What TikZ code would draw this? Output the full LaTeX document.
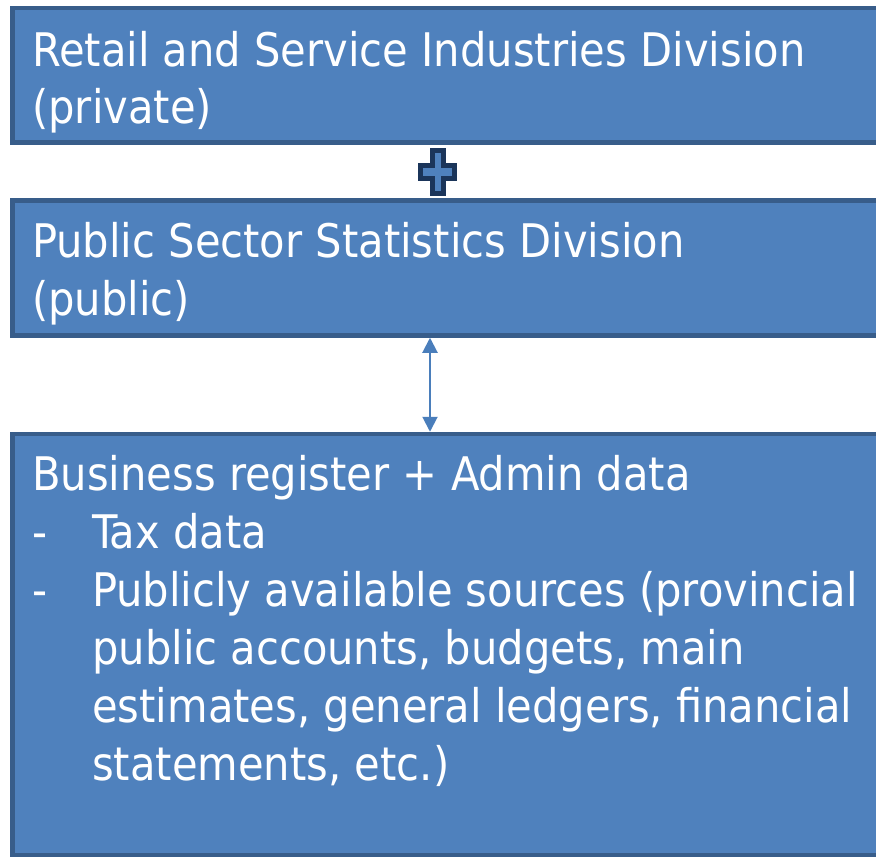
\documentclass[tikz,border=0pt]{standalone}
\usepackage{fontspec}
\newfontfamily\boxfont{DejaVu Sans Condensed}
\usetikzlibrary{arrows.meta,positioning}
\definecolor{BLUE}{HTML}{4F81BD}
\definecolor{EDGE}{HTML}{385D8A}
\definecolor{NAVY}{HTML}{1B355A}
\definecolor{ARROW}{HTML}{4A7EBB}

\begin{document}
\begin{tikzpicture}[x=1pt,y=-1pt]
\tikzstyle{panel}=[rectangle,draw=EDGE,fill=BLUE,line width=4.5pt,outer sep=0pt,inner sep=0pt,anchor=north west,minimum width=885pt]
% base west of a multi-line node sits on its last line
\tikzstyle{panel text}=[text=white,anchor=base west,inner sep=0pt,align=left,font=\boxfont\fontsize{46.3}{58}\selectfont]
\tikzstyle{myEdge}=[draw=ARROW,line width=2pt,shorten >=2.25pt,shorten <=2.25pt,
  arrows={Triangle[length=15pt,width=15pt]-Triangle[length=15pt,width=15pt]}]
\newcommand{\dashitem}{\makebox[60pt][l]{-}}
\newcommand{\itemgap}{\hspace*{60pt}}

\fill[white] (0,0) rectangle (876,859);
\clip (0,0) rectangle (876,859);

% the three division boxes run off the right edge
\node[panel,minimum height=134.5pt] (retail) at (12.5,8) {};
\node[panel,minimum height=135pt] (public) at (12.5,200.5) {};
\node[panel,minimum height=421pt] (admin) at (12.5,434) {};

\node[panel text] (retailText) at (32,124) {Retail and Service Industries Division\\(private)};
\node[panel text] (publicText) at (32,315) {Public Sector Statistics Division\\(public)};
\node[panel text] (adminText) at (32,780) {Business register + Admin data\\
\dashitem Tax data\\
\dashitem Publicly available sources (provincial\\
\itemgap public accounts, budgets, main\\
\itemgap estimates, general ledgers, financial\\
\itemgap statements, etc.)};

% plus sign between the two divisions
\draw[draw=NAVY,fill=BLUE,line width=4.5pt,line join=miter]
(432.5,150.5) -- (443.5,150.5) -- (443.5,165.5) -- (454.5,165.5) -- (454.5,178.5) -- (443.5,178.5)
-- (443.5,193.5) -- (432.5,193.5) -- (432.5,178.5) -- (420.5,178.5) -- (420.5,165.5) -- (432.5,165.5) -- cycle;

\coordinate (link) at (430,0);
\draw[myEdge] (public.south -| link) -- (admin.north -| link);
\end{tikzpicture}
\end{document}
